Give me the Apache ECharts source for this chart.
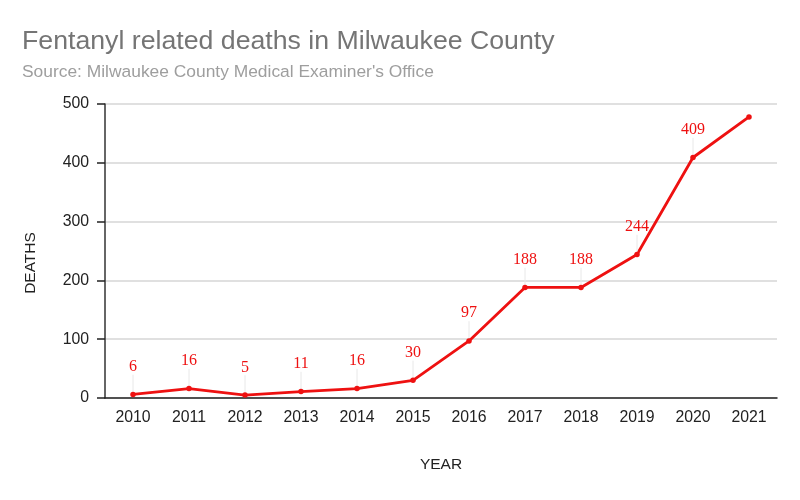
<!DOCTYPE html>
<html>
<head>
<meta charset="utf-8">
<script src="https://cdn.jsdelivr.net/npm/echarts@6/dist/echarts.min.js"></script>
<style>html,body{margin:0;padding:0;background:#fff}#c{width:800px;height:500px}</style>
</head>
<body>
<div id="c"></div>
<script>
const years = ['2010','2011','2012','2013','2014','2015','2016','2017','2018','2019','2020','2021'];
const deaths = [6, 16, 5, 11, 16, 30, 97, 188, 188, 244, 409, 478];
const labelShown = [true, true, true, true, true, true, true, true, true, true, true, false];
const yTicks = [0, 100, 200, 300, 400, 500];

const chart = echarts.init(document.getElementById('c'));
chart.setOption({
  animation: false,
  backgroundColor: '#fff',
  title: {
    text: 'Fentanyl related deaths in Milwaukee County',
    subtext: "Source: Milwaukee County Medical Examiner's Office",
    left: 17, top: 23, itemGap: 9,
    textStyle: {fontFamily: 'Liberation Sans, Arial', fontSize: 26.7, fontWeight: 'normal', color: '#757575'},
    subtextStyle: {fontFamily: 'Liberation Sans, Arial', fontSize: 17.4, color: '#9e9e9e'}
  },
  grid: {left: 105, right: 23, top: 104, bottom: 102, containLabel: false},
  xAxis: {
    type: 'category', data: years, boundaryGap: true,
    name: 'YEAR', nameLocation: 'middle', nameGap: 59,
    nameTextStyle: {fontFamily: 'Liberation Sans, Arial', fontSize: 15.5, color: '#222'},
    axisLine: {lineStyle: {color: '#222', width: 1.5}},
    axisTick: {alignWithLabel: true, length: 8, lineStyle: {color: '#222', width: 1.5}},
    axisLabel: {fontFamily: 'Liberation Sans, Arial', fontSize: 15.8, color: '#222', margin: 12},
    splitLine: {show: false}
  },
  yAxis: {
    type: 'value', min: yTicks[0], max: yTicks[yTicks.length-1], interval: 100,
    name: 'DEATHS', nameLocation: 'middle', nameGap: 66, nameRotate: 90,
    nameTextStyle: {fontFamily: 'Liberation Sans, Arial', fontSize: 15.5, color: '#222', padding: [0, 0, 0, -24]},
    axisLine: {show: true, lineStyle: {color: '#333', width: 1.5}},
    axisTick: {show: true, length: 8, inside: false, lineStyle: {color: '#222', width: 1.5}},
    axisLabel: {fontFamily: 'Liberation Sans, Arial', fontSize: 15.8, color: '#222', margin: 16},
    splitLine: {lineStyle: {color: '#d6d6d6', width: 1.5}}
  },
  series: [{
    type: 'line',
    data: deaths.map((v, i) => ({value: v, label: {show: labelShown[i]}, labelLine: {show: labelShown[i]}})),
    color: '#ee1111',
    lineStyle: {width: 2.8, color: '#ee1111'},
    symbol: 'circle', symbolSize: 5.5,
    itemStyle: {color: '#ee1111'},
    label: {
      show: true, position: 'top', distance: 4,
      fontFamily: 'Liberation Serif, Times New Roman, serif', fontSize: 16, color: '#ee1111'
    },
    labelLayout: {dy: -13},
    labelLine: {show: true, lineStyle: {color: '#e8e8e8', width: 1}}
  }]
});
</script>
</body>
</html>
